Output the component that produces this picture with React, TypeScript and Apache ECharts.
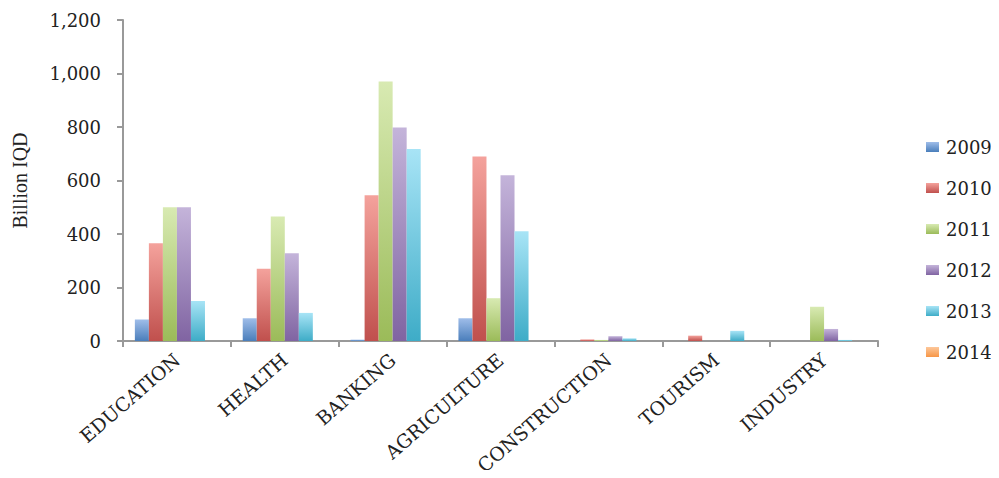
import React, { useEffect, useRef } from "react";
import * as echarts from "echarts";

const categories = ["EDUCATION", "HEALTH", "BANKING", "AGRICULTURE", "CONSTRUCTION", "TOURISM", "INDUSTRY"];
const years = ["2009", "2010", "2011", "2012", "2013", "2014"];
const v2009 = [80, 85, 5, 85, 0, 0, 0];
const v2010 = [365, 270, 545, 690, 6, 20, 0];
const v2011 = [500, 465, 970, 160, 4, 0, 128];
const v2012 = [500, 328, 798, 620, 18, 0, 45];
const v2013 = [150, 105, 718, 410, 10, 38, 4];
const v2014 = [0, 0, 0, 0, 0, 0, 0];
const yTicks = [0, 200, 400, 600, 800, 1000, 1200];

const seriesValues = [v2009, v2010, v2011, v2012, v2013, v2014];
const baseColors = ["#4a7ebb", "#c0504d", "#9bbb59", "#8064a2", "#3eacc7", "#f79646"];
const topColors = ["#9fbde9", "#f4a29c", "#d8eab2", "#c4b4da", "#a8e4f6", "#fdc79a"];

export default function App() {
  const ref = useRef<HTMLDivElement>(null);
  useEffect(() => {
    if (!ref.current) return;
    const chart = echarts.init(ref.current, null, { renderer: "svg" });
    const fmt = (v: number) => v.toLocaleString("en-US");
    chart.setOption({
      animation: false,
      grid: { left: 123, right: 121, top: 20, bottom: 137, containLabel: false, outerBoundsMode: "none" },
      legend: {
        orient: "vertical",
        left: 921,
        top: 133,
        itemWidth: 13,
        itemHeight: 10,
        itemGap: 23,
        icon: "rect",
        data: years,
        textStyle: {
          fontFamily: "DejaVu Serif",
          fontSize: 18,
          lineHeight: 18,
          color: "#222",
          padding: [0, 0, 0, 2],
        },
      },
      xAxis: {
        type: "category",
        data: categories,
        axisLine: { lineStyle: { color: "#999", width: 2 } },
        axisTick: { show: true, length: 6, lineStyle: { color: "#999", width: 2 } },
        axisLabel: {
          rotate: 41,
          margin: 16,
          interval: 0,
          fontFamily: "DejaVu Serif",
          fontSize: 19,
          color: "#222",
        },
      },
      yAxis: {
        type: "value",
        min: 0,
        max: 1200,
        interval: 200,
        name: "Billion IQD",
        nameLocation: "middle",
        nameGap: 93,
        nameTextStyle: { fontFamily: "Liberation Serif", fontSize: 20, color: "#222" },
        axisLine: { show: true, lineStyle: { color: "#999", width: 2 } },
        axisTick: { show: true, length: 6, lineStyle: { color: "#999", width: 2 } },
        splitLine: { show: false },
        axisLabel: {
          fontFamily: "DejaVu Serif",
          fontSize: 18,
          color: "#222",
          margin: 22,
          formatter: (v: number) => (yTicks.includes(v) ? fmt(v) : ""),
        },
      },
      series: years.map((y, i) => ({
        name: y,
        type: "bar",
        data: seriesValues[i],
        barGap: "0%",
        barCategoryGap: "22%",
        itemStyle: {
          color: new echarts.graphic.LinearGradient(0, 0, 0, 1, [
            { offset: 0, color: topColors[i] },
            { offset: 1, color: baseColors[i] },
          ]),
        },
      })),
    });
    return () => chart.dispose();
  }, []);
  return <div ref={ref} style={{ width: 999, height: 478, margin: -8 }} />;
}
